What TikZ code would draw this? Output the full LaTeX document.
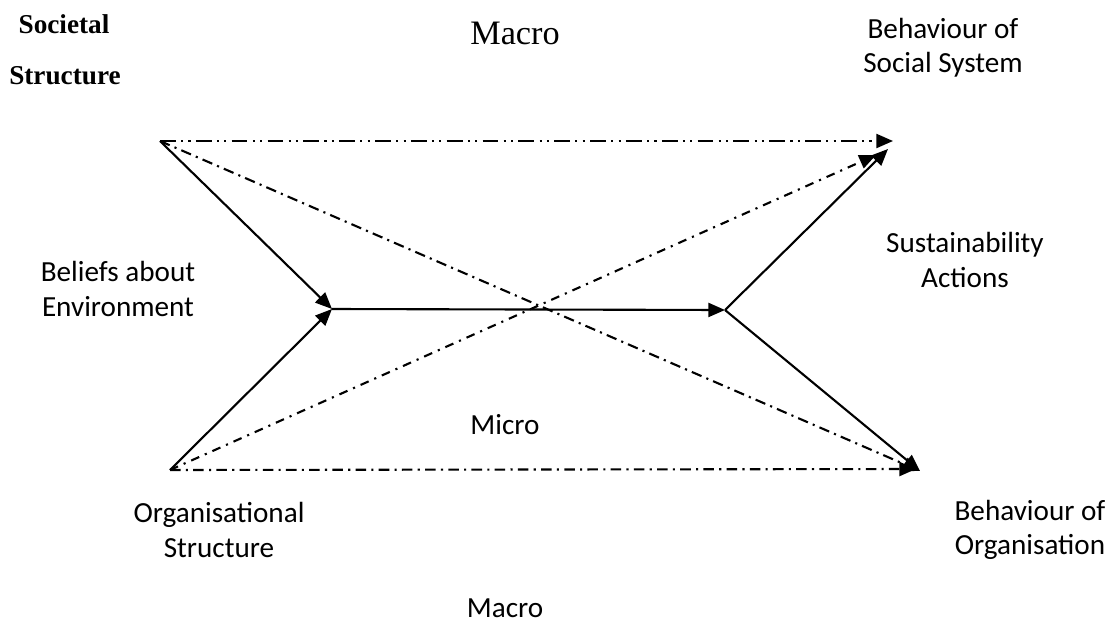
\documentclass[tikz,border=0pt]{standalone}
\usepackage{fontspec}
\setmainfont{Liberation Serif}
\newfontfamily\calib{Carlito}
\usetikzlibrary{arrows.meta}

\begin{document}
\begin{tikzpicture}[x=0.02cm, y=-0.02cm,
		link/.style={line width=1.2pt, -{Triangle[length=9.5pt, width=8pt]}},
		dotdot/.style={link, dash pattern=on 9pt off 3pt on 1.2pt off 3pt on 1.2pt off 3pt},
		dashdot/.style={link, dash pattern=on 6pt off 3pt on 1.2pt off 3pt},
		dashed2/.style={link, dash pattern=on 5pt off 3.5pt on 1.2pt off 3.5pt},
		lbl/.style={font=\calib\fontsize{16.6}{19.5}\selectfont, align=center, inner sep=0pt}]
		%%%%% START %%%%%
		\useasboundingbox (0, 0) rectangle (1113, 626);
		
		\coordinate (soc) at (160, 141);
		\coordinate (org) at (170, 470);
		\coordinate (bel) at (332, 309);
		\coordinate (act) at (725, 310);
		\coordinate (sys) at (893, 141);
		\coordinate (sysb) at (888, 149);
		\coordinate (sysc) at (876, 155);
		\coordinate (beh) at (920, 471);
		\coordinate (behb) at (916, 469);
		
		% texts
		\node[font=\bfseries\fontsize{15.5}{18}\selectfont, inner sep=0pt] (socA) at (64, 24) {Societal};
		\node[font=\bfseries\fontsize{15.5}{18}\selectfont, inner sep=0pt] (socB) at (65, 76) {Structure};
		\node[font=\fontsize{19.5}{22}\selectfont, inner sep=0pt] (macTop) at (515, 33) {Macro};
		\node[lbl] (sysT) at (943, 48) {Behaviour of\\Social System};
		\node[lbl] (belT) at (118, 289) {Beliefs about\\Environment};
		\node[lbl] (actT) at (965, 260) {Sustainability\\Actions};
		\node[lbl] (micT) at (505, 425) {Micro};
		\node[lbl] (orgT) at (219, 530) {Organisational\\Structure};
		\node[lbl] (behT) at (1030, 530) {Behaviour of\\Organisation};
		\node[lbl] (macBot) at (505, 608) {Macro};
		
		% macro lines
		\draw[dotdot] (soc) -- (sys);
		\draw[dashdot] (soc) -- (beh);
		\draw[dashed2] (org) -- (sysc);
		\draw[dashdot] (org) -- (behb);
		
		% micro path
		\draw[link] (soc) -- (bel);
		\draw[link] (org) -- (bel);
		\draw[link] (bel) -- (act);
		\draw[link] (act) -- (sysb);
		\draw[link] (act) -- (beh);
		
		%%%%% END %%%%%
	\end{tikzpicture}
\end{document}
